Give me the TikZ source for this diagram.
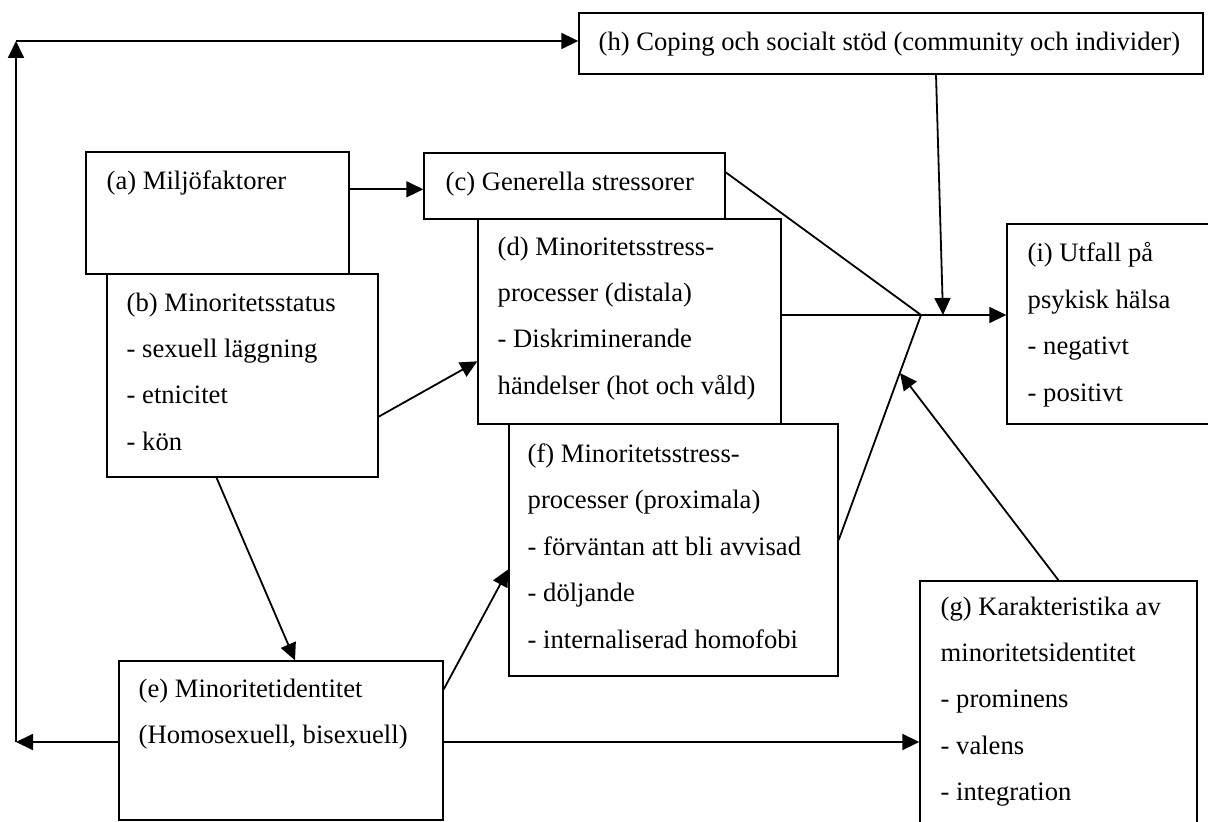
\documentclass[tikz,border=0pt]{standalone}
\usepackage{fontspec}
\setmainfont{Liberation Serif}
\usetikzlibrary{arrows.meta,fit}

\begin{document}
\begin{tikzpicture}[x=0.5pt, y=-0.5pt,
    box/.style={draw, fill=white, line width=0.7pt, inner sep=0pt},
    txt/.style={anchor=north west, align=left, inner sep=0pt,
      font=\fontsize{13.3}{23.2}\selectfont},
    lin/.style={line width=0.9pt},
    arr/.style={line width=0.9pt, -{Triangle[length=8.5pt,width=8pt]}}]
    \path[use as bounding box, clip] (0,0) rectangle (1208,822);
    \fill[white] (0,0) rectangle (1208,822);
    % rutor
    \node[box, fit={(579,13) (1203,74)}]   (h) {};
    \node[box, fit={(86,152) (349,274)}]   (a) {};
    \node[box, fit={(107,274) (378,477)}]  (b) {};
    \node[box, fit={(424,153) (725,219)}]  (c) {};
    \node[box, fit={(478,219) (781,424)}]  (d) {};
    \node[box, fit={(509,424) (838,676)}]  (f) {};
    \node[box, fit={(119,661) (443,820)}]  (e) {};
    \node[box, fit={(920,581) (1197,840)}] (g) {};
    \node[box, fit={(1007,224) (1230,424)}] (i) {};
    % texter
    \node[txt] (th) at ([shift={(20,19)}]h.north west) {(h) Coping och socialt stöd (community och individer)};
    \node[txt] (ta) at ([shift={(21,19)}]a.north west) {(a) Miljöfaktorer};
    \node[txt] (tb) at ([shift={(20,19)}]b.north west) {(b) Minoritetsstatus\\- sexuell läggning\\- etnicitet\\- kön};
    \node[txt] (tc) at ([shift={(22,19)}]c.north west) {(c) Generella stressorer};
    \node[txt] (td) at ([shift={(20,18)}]d.north west) {(d) Minoritetsstress-\\processer (distala)\\- Diskriminerande\\händelser (hot och våld)};
    \node[txt] (tf) at ([shift={(19,20)}]f.north west) {(f) Minoritetsstress-\\processer (proximala)\\- förväntan att bli avvisad\\- döljande\\- internaliserad homofobi};
    \node[txt] (te) at ([shift={(20,18)}]e.north west) {(e) Minoritetidentitet\\(Homosexuell, bisexuell)};
    \node[txt] (tg) at ([shift={(21,16)}]g.north west) {(g) Karakteristika av\\minoritetsidentitet\\- prominens\\- valens\\- integration};
    \node[txt] (ti) at ([shift={(21,19)}]i.north west) {(i) Utfall på\\psykisk hälsa\\- negativt\\- positivt};
    % hjälppunkter
    \coordinate (jn) at (921,315);
    \coordinate (lo) at (16,742);
    \coordinate (up) at (16,41);
    % pilar
    \draw[arr] ([shift={(0,38)}]a.north east) -- ([shift={(0,37)}]c.north west);
    \draw[arr] ([shift={(0,-61)}]b.south east) -- ([shift={(0,143)}]d.north west);
    \draw[arr] ([shift={(-26,0)}]b.south) -- ([shift={(14,0)}]e.north);
    \draw[arr] ([shift={(0,29)}]e.north east) -- ([shift={(0,146)}]f.north west);
    \draw[arr] (e.east |- lo) -- (g.west |- lo);
    \draw[arr] (e.west |- lo) -- (lo);
    \draw[arr] (lo) -- (up);
    \draw[arr] (up) -- (h.west |- up);
    \draw[lin] ([shift={(0,20)}]c.north east) -- (jn);
    \draw[lin] ([shift={(0,-10)}]f.east) -- (jn);
    \draw[arr] (d.east |- jn) -- (i.west |- jn);
    \draw[arr] ([shift={(45,0)}]h.south) -- ([shift={(22,0)}]jn);
    \draw[arr] (g.north) -- ([shift={(-21,58)}]jn);
\end{tikzpicture}
\end{document}
